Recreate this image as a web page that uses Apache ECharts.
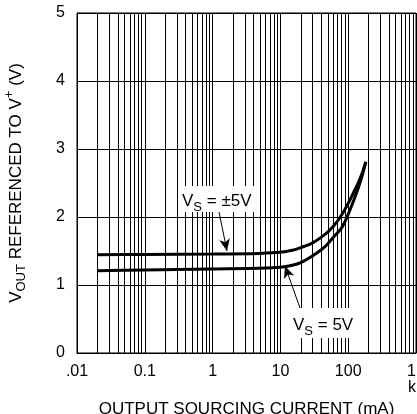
<!DOCTYPE html>
<html>
<head>
<meta charset="utf-8">
<script src="https://cdn.jsdelivr.net/npm/echarts@6/dist/echarts.min.js"></script>
<style>
  html, body { margin: 0; padding: 0; background: #fff; }
  #chart { width: 417px; height: 414px; }
</style>
</head>
<body>
<div id="chart"></div>
<script>
// output sourcing current (mA), log axis
var currents = [0.02, 0.1, 1, 5, 10, 15, 20, 30, 45, 60, 80, 100, 120, 140, 160, 182]
// Vout referenced to V+ (V)
var vDual = [1.445, 1.45, 1.455, 1.465, 1.48, 1.51, 1.55, 1.62, 1.74, 1.86, 2.03, 2.2, 2.36, 2.5, 2.64, 2.81]
var vSingle = [1.21, 1.22, 1.235, 1.245, 1.26, 1.29, 1.33, 1.43, 1.56, 1.7, 1.84, 2.04, 2.24, 2.42, 2.6, 2.81]

var xTickLabels = { 0.01: '.01', 0.1: '0.1', 1: '1', 10: '10', 100: '100', 1000: '1\nk' }
var decades = [0.01, 0.1, 1, 10, 100]
var multiples = [2, 3, 4, 5, 6, 7, 8, 9]

// arrow annotations [from, to] in data coords
var arrowDual = [[1.2, 2.15], [1.63, 1.5]]
var arrowSingle = [[19.5, 0.66], [11.7, 1.28]]

var FONT = '"Liberation Sans", Arial, sans-serif'

// minor log grid lines (2..9 in every decade)
var minorLines = []
decades.forEach(function(d) {
  multiples.forEach(function(m) {
    minorLines.push({ xAxis: +(d * m).toPrecision(3) })
  })
})

function pairs(xs, ys) {
  return xs.map(function(x, i) { return [x, ys[i]] })
}

var chart = echarts.init(document.getElementById('chart'), null, { renderer: 'canvas' })

var subRich = {
  v: { fontSize: 17, fontFamily: FONT, color: '#000', lineHeight: 24, verticalAlign: 'bottom' },
  s: { fontSize: 13, fontFamily: FONT, color: '#000', lineHeight: 24, verticalAlign: 'bottom', padding: [0, 0, -4, 0] }
}

chart.setOption({
  animation: false,
  backgroundColor: '#fff',
  grid: {
    left: 77,
    top: 13,
    width: 339,
    height: 340,
    outerBoundsMode: 'none',
    containLabel: false,
    show: true,
    borderColor: '#000',
    borderWidth: 1
  },
  xAxis: {
    type: 'log',
    logBase: 10,
    min: 0.01,
    max: 1000,
    name: 'OUTPUT SOURCING CURRENT (mA)',
    nameLocation: 'middle',
    nameGap: 41,
    nameTextStyle: { fontSize: 17, fontFamily: FONT, color: '#000' },
    axisLine: { show: true, lineStyle: { color: '#000', width: 1 } },
    axisTick: { show: false },
    axisLabel: {
      fontSize: 16,
      fontFamily: FONT,
      color: '#000',
      margin: 11,
      lineHeight: 16,
      alignMaxLabel: 'right',
      formatter: function(v) {
        return xTickLabels[+v.toPrecision(3)] || ''
      }
    },
    splitLine: { show: true, lineStyle: { color: '#000', width: 1 } }
  },
  yAxis: {
    type: 'value',
    min: 0,
    max: 5,
    interval: 1,
    name: '{v|V}{s|OUT}{v| REFERENCED TO V}{p|+}{v| (V)}',
    nameLocation: 'middle',
    nameGap: 52,
    nameRotate: 90,
    nameTextStyle: {
      rich: {
        v: { fontSize: 17, fontFamily: FONT, color: '#000', lineHeight: 22, verticalAlign: 'bottom' },
        s: { fontSize: 13, fontFamily: FONT, color: '#000', lineHeight: 22, verticalAlign: 'bottom', padding: [0, 0, -3, 0] },
        p: { fontSize: 13, fontFamily: FONT, color: '#000', lineHeight: 14, verticalAlign: 'top' }
      }
    },
    axisLine: { show: true, lineStyle: { color: '#000', width: 1 } },
    axisTick: { show: false },
    axisLabel: { fontSize: 16, fontFamily: FONT, color: '#000', margin: 12 },
    splitLine: { show: true, lineStyle: { color: '#000', width: 1 } }
  },
  series: [
    {
      // minor log grid
      type: 'line',
      data: [],
      z: 1,
      silent: true,
      markLine: {
        silent: true,
        symbol: 'none',
        label: { show: false },
        lineStyle: { color: '#000', width: 1, type: 'solid' },
        data: minorLines
      }
    },
    {
      name: 'VS = ±5V',
      type: 'line',
      data: pairs(currents, vDual),
      smooth: 0.3,
      showSymbol: false,
      z: 5,
      lineStyle: { color: '#000', width: 3 },
      markLine: {
        silent: true,
        symbol: ['none', 'arrow'],
        symbolSize: [8, 12],
        label: { show: false },
        lineStyle: { color: '#000', width: 1, type: 'solid' },
        data: [[{ coord: arrowDual[0] }, { coord: arrowDual[1] }]]
      }
    },
    {
      name: 'VS = 5V',
      type: 'line',
      data: pairs(currents, vSingle),
      smooth: 0.3,
      showSymbol: false,
      z: 5,
      lineStyle: { color: '#000', width: 3 },
      markLine: {
        silent: true,
        symbol: ['none', 'arrow'],
        symbolSize: [8, 12],
        label: { show: false },
        lineStyle: { color: '#000', width: 1, type: 'solid' },
        data: [[{ coord: arrowSingle[0] }, { coord: arrowSingle[1] }]]
      }
    }
  ],
  graphic: [
    {
      type: 'text',
      z: 100,
      x: 178,
      y: 186,
      style: {
        text: '{v|V}{s|S}{v| = ±5V}',
        rich: subRich,
        backgroundColor: '#fff',
        padding: [0, 4, 2, 4]
      }
    },
    {
      type: 'text',
      z: 100,
      x: 289,
      y: 308,
      style: {
        text: '{v|V}{s|S}{v| = 5V}',
        rich: subRich,
        backgroundColor: '#fff',
        padding: [2, 6, 4, 4]
      }
    }
  ]
})
</script>
</body>
</html>
